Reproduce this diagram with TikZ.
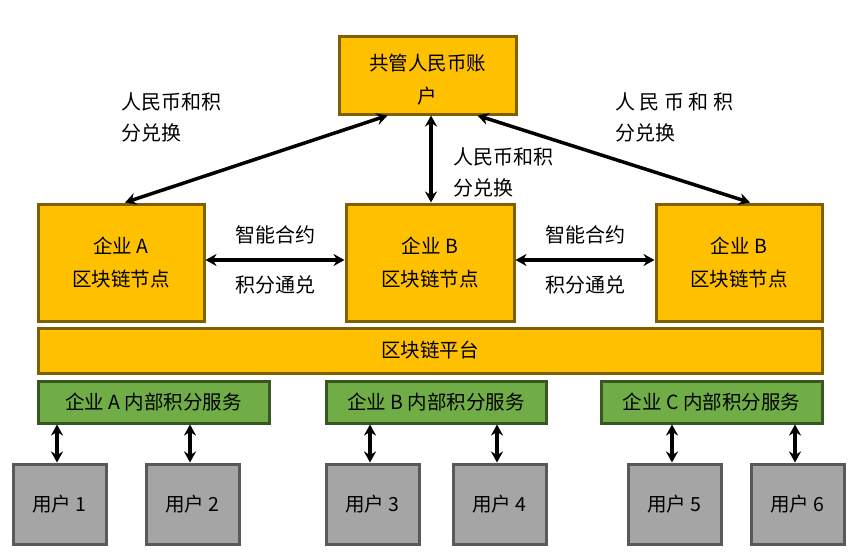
\documentclass[tikz,border=0pt]{standalone}
\usepackage{fontspec}
\setmainfont{Noto Sans CJK SC}
\usetikzlibrary{arrows.meta}

\definecolor{gold}{HTML}{FFC000}
\definecolor{goldline}{HTML}{7F6000}
\definecolor{leaf}{HTML}{70AD47}
\definecolor{leafline}{HTML}{385723}
\definecolor{stone}{HTML}{A5A5A5}
\definecolor{stoneline}{HTML}{595959}

\tikzset{
    goldbox/.style={draw=goldline, fill=gold, line width=3pt, inner sep=0pt,
        align=center, font=\fontsize{19.5}{33}\selectfont},
    svcbox/.style={draw=leafline, fill=leaf, line width=3pt, inner sep=0pt,
        minimum height=42pt, font=\fontsize{19.5}{22}\selectfont},
    userbox/.style={draw=stoneline, fill=stone, line width=3pt, inner sep=0pt,
        minimum width=93pt, minimum height=80pt, font=\fontsize{19.5}{22}\selectfont},
    link/.style={line width=3.5pt, {Stealth[length=11pt,width=12pt]}-{Stealth[length=11pt,width=12pt]}},
    note/.style={align=left, inner sep=0pt, font=\fontsize{20}{31}\selectfont}
}

\begin{document}
\begin{tikzpicture}[x=1pt, y=-1pt]
    \useasboundingbox (0,0) rectangle (867,554);

    % Shared RMB account (text sits a little low in the box)
    \node[goldbox, minimum width=177pt, minimum height=78pt] (acct) at (427.5,75)
        {\raisebox{0pt}[\dimexpr\height+10pt][\depth]{\parbox{170pt}{\centering 共管人民币账\\户}}};

    % Enterprise blockchain nodes
    \node[goldbox, minimum width=166pt, minimum height=117pt] (entA) at (121,262.5)
        {企业 A\\区块链节点};
    \node[goldbox, minimum width=168pt, minimum height=117pt] (entB) at (430,262.5)
        {企业 B\\区块链节点};
    \node[goldbox, minimum width=166pt, minimum height=117pt] (entC) at (739,262.5)
        {企业 B\\区块链节点};

    % Blockchain platform
    \node[goldbox, minimum width=784pt, minimum height=45pt] (chain) at (430,350.5)
        {区块链平台};

    % Internal point services
    \node[svcbox, minimum width=231pt] (svcA) at (153.5,402) {企业 A 内部积分服务};
    \node[svcbox, minimum width=220pt] (svcB) at (436,402) {企业 B 内部积分服务};
    \node[svcbox, minimum width=221pt] (svcC) at (711.5,402) {企业 C 内部积分服务};

    % Users
    \foreach \n/\x in {1/59.5, 2/192.5, 3/372.5, 4/499.5, 5/674.5, 6/797.5} {
        \node[userbox] (u\n) at (\x,504) {用户 \n};
    }

    % Account <-> nodes
    \draw[link] ([xshift=50pt]acct.south west) -- ([xshift=4pt]entA.north);
    \draw[link] ([xshift=3.5pt]acct.south) -- ([xshift=1pt]entB.north);
    \draw[link] ([xshift=-40pt]acct.south east) -- ([xshift=11pt]entC.north);

    % base anchor sits on the last line
    \node[note, anchor=base west] (exL) at (121,140) {人民币和积\\分兑换};
    \node[note, anchor=base west] (exM) at (453,195) {人民币和积\\分兑换};
    \node[note, anchor=base west] (exR) at (615,140) {人 民 币 和 积\\分兑换};

    % Node <-> node
    \draw[link] ([yshift=2.5pt]entA.east) -- ([yshift=2.5pt]entB.west)
        node[midway, above=14pt, note] (smA) {智能合约}
        node[midway, below=14pt, note] (jfA) {积分通兑};
    \draw[link] ([yshift=2.5pt]entB.east) -- ([yshift=2.5pt]entC.west)
        node[midway, above=14pt, note] (smB) {智能合约}
        node[midway, below=14pt, note] (jfB) {积分通兑};

    % Services <-> users
    \foreach \u/\s in {1/svcA, 2/svcA, 3/svcB, 4/svcB, 5/svcC, 6/svcC} {
        \draw[link] ([xshift=-2.5pt]u\u.north) -- ([xshift=-2.5pt]u\u.north |- \s.south);
    }
\end{tikzpicture}
\end{document}
